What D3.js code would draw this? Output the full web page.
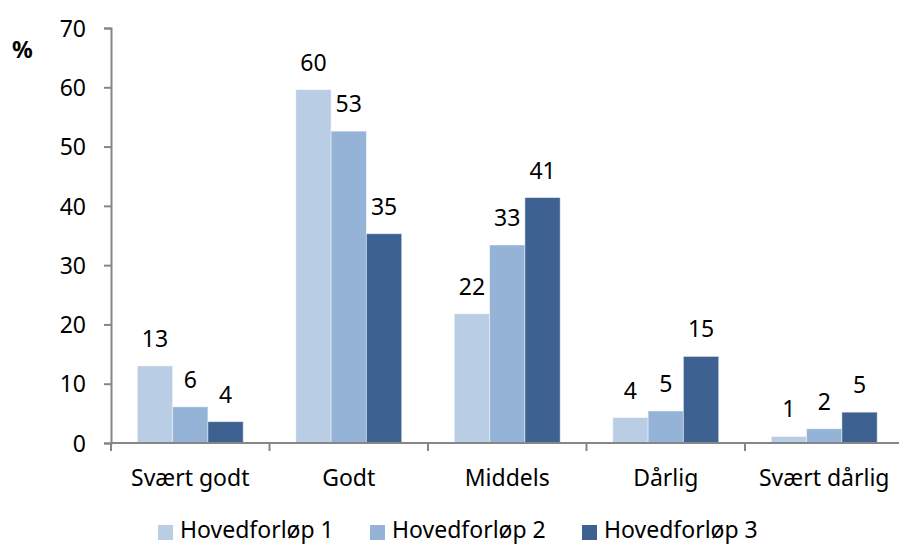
<!DOCTYPE html>
<html lang="no">
<head>
<meta charset="UTF-8">
<title>Hovedforløp</title>
<script src="https://d3js.org/d3.v7.min.js"></script>
<style>
    body { margin: 0; padding: 0; background: #fff; }
    svg { display: block; }
    text { font-family: 'Noto Sans', sans-serif; fill: #000; }
    .axis path, .axis line { stroke: #868686; stroke-width: 2px; }
</style>
</head>
<body>
<svg width="899" height="544"></svg>
<script>
// categories and series
var categories = ["Svært godt", "Godt", "Middels", "Dårlig", "Svært dårlig"];
var seriesNames = ["Hovedforløp 1", "Hovedforløp 2", "Hovedforløp 3"];
var hf1 = [13.0, 59.6, 21.8, 4.3, 1.1];
var hf2 = [6.1, 52.6, 33.4, 5.4, 2.4];
var hf3 = [3.6, 35.3, 41.4, 14.6, 5.2];
var yTicks = [0, 10, 20, 30, 40, 50, 60, 70];
var colors = ["#b9cde5", "#95b3d7", "#3d6190"];

var series = [hf1, hf2, hf3];

var svg = d3.select("svg");

var x0 = d3.scaleBand().domain(categories).range([111, 903.5]).padding(0);
var x1 = d3.scaleBand().domain(d3.range(series.length))
    .range([0, x0.bandwidth()]).paddingInner(0).paddingOuter(0.745);
var y = d3.scaleLinear().domain([0, 70]).range([443, 28]);

// bars
var groups = svg.selectAll(".cat")
    .data(categories)
    .enter().append("g")
    .attr("class", "cat")
    .attr("transform", function(d) { return "translate(" + x0(d) + ",0)"; });

groups.selectAll("rect")
    .data(function(d, i) { return series.map(function(s, j) { return {s: j, v: s[i]}; }); })
    .enter().append("rect")
    .attr("x", function(d) { return x1(d.s); })
    .attr("width", x1.bandwidth())
    .attr("y", function(d) { return y(d.v); })
    .attr("height", function(d) { return y(0) - y(d.v); })
    .attr("fill", function(d) { return colors[d.s]; })
    .attr("stroke", "rgba(255,255,255,0.45)")
    .attr("stroke-width", 1);

groups.selectAll(".lbl")
    .data(function(d, i) { return series.map(function(s, j) { return {s: j, v: s[i]}; }); })
    .enter().append("text")
    .attr("class", "lbl")
    .attr("x", function(d) { return x1(d.s) + x1.bandwidth() / 2; })
    .attr("y", function(d) { return y(d.v) - 19; })
    .attr("text-anchor", "middle")
    .style("font-size", "23px")
    .text(function(d) { return d3.format(".0f")(d.v); });

// y axis
var yAxis = svg.append("g")
    .attr("class", "axis")
    .attr("transform", "translate(111,0)")
    .call(d3.axisLeft(y).tickValues(yTicks).tickSize(7).tickPadding(18).tickSizeOuter(7));
yAxis.selectAll("text").style("font-size", "23px").attr("dy", "0.36em");

// x axis with ticks between categories
var xAxis = svg.append("g").attr("class", "axis");
xAxis.append("line")
    .attr("x1", 111).attr("x2", 903.5)
    .attr("y1", y(0)).attr("y2", y(0));
xAxis.selectAll(".xt")
    .data(categories)
    .enter().append("line")
    .attr("x1", function(d) { return x0(d); })
    .attr("x2", function(d) { return x0(d); })
    .attr("y1", y(0)).attr("y2", y(0) + 8);
svg.selectAll(".catlbl")
    .data(categories)
    .enter().append("text")
    .attr("x", function(d) { return x0(d) + x0.bandwidth() / 2; })
    .attr("y", 486)
    .attr("text-anchor", "middle")
    .style("font-size", "23px")
    .text(function(d) { return d; });

// unit
svg.append("text")
    .attr("x", 12).attr("y", 58)
    .style("font-size", "23px")
    .style("font-weight", "bold")
    .text("%");

// legend
var legendX = [158, 370, 582];
var legend = svg.selectAll(".leg")
    .data(seriesNames)
    .enter().append("g")
    .attr("transform", function(d, i) { return "translate(" + legendX[i] + ",525)"; });
legend.append("rect")
    .attr("width", 15).attr("height", 15)
    .attr("fill", function(d, i) { return colors[i]; });
legend.append("text")
    .attr("x", 22).attr("y", 13)
    .style("font-size", "23px")
    .text(function(d) { return d; });
</script>
</body>
</html>
